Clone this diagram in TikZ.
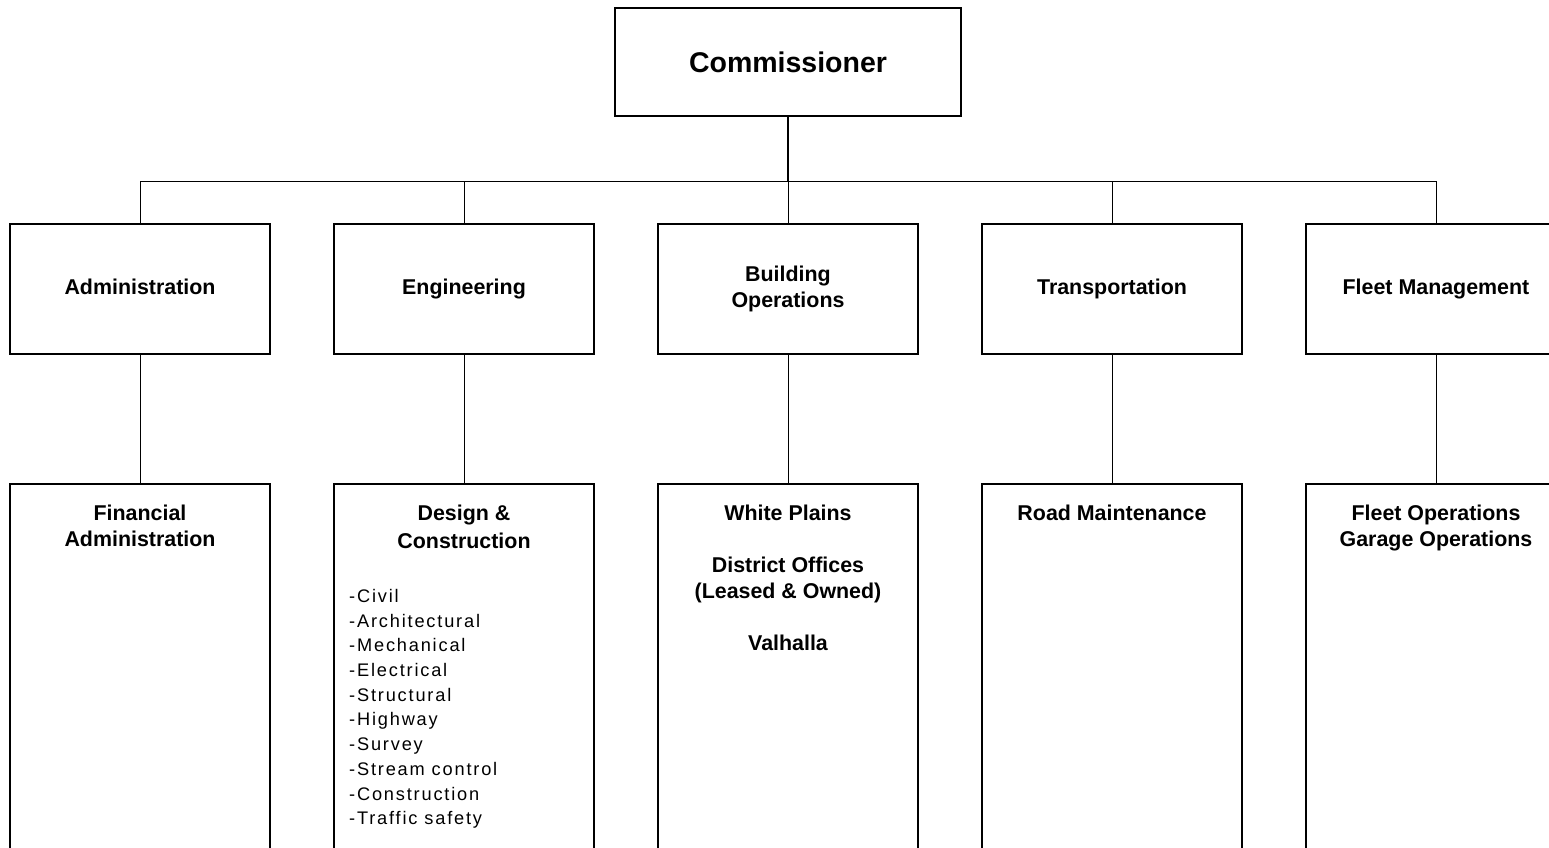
\documentclass[tikz,border=0pt]{standalone}
\usepackage{fontspec}
\setmainfont{Liberation Sans}
\newfontfamily\listfont[LetterSpace=10]{Liberation Sans}
\begin{document}
\begin{tikzpicture}[x=1pt,y=-1pt,
  topbox/.style={draw,line width=1.5pt,minimum width=346pt,minimum height=108pt,inner sep=0pt,
    font=\fontsize{28.5}{34}\selectfont\bfseries},
  midbox/.style={draw,line width=1.5pt,minimum width=260pt,minimum height=130pt,inner sep=0pt,align=center,
    font=\fontsize{21.4}{26}\selectfont\bfseries,execute at begin node={\vphantom{Apg}}},
  lowbox/.style={draw,line width=1.5pt,minimum width=260pt,minimum height=450pt,inner sep=0pt,anchor=north},
  lowtext/.style={anchor=north,inner sep=0pt,align=center,font=\fontsize{21.4}{26}\selectfont\bfseries},
  listtext/.style={anchor=north west,inner sep=0pt,align=left,font=\fontsize{18.2}{24.7}\selectfont\listfont},
  conn/.style={line width=1pt},
  trunk/.style={line width=1.8pt}]
\useasboundingbox (0,0) rectangle (1549,847);
\clip (0,0) rectangle (1549,847);

\node[topbox] (comm) at (788,62) {Commissioner};

\node[midbox] (adm) at (140,289) {Administration};
\node[midbox] (eng) at (464,289) {Engineering};
\node[midbox] (bld) at (788,289) {Building\\Operations};
\node[midbox] (trn) at (1112,289) {Transportation};
\node[midbox] (flt) at (1436,289) {Fleet Management};

\node[lowbox] (fin) at (140,483) {};
\node[lowbox] (des) at (464,483) {};
\node[lowbox] (wp) at (788,483) {};
\node[lowbox] (road) at (1112,483) {};
\node[lowbox] (fop) at (1436,483) {};

\node[lowtext] (fint) at (140,504.5) {Financial\\Administration};
\node[lowtext] (dest) at (464,504.5) {Design \&\\[2pt]Construction};
\node[listtext] (list) at (349,589) {-Civil\\-Architectural\\-Mechanical\\-Electrical\\-Structural\\-Highway\\-Survey\\-Stream control\\-Construction\\-Traffic safety};
\node[lowtext] (wpt) at (788,504.5) {White Plains\\[26pt]District Offices\\(Leased \& Owned)\\[26pt]Valhalla};
\node[lowtext] (roadt) at (1112,504.5) {Road Maintenance};
\node[lowtext] (fopt) at (1436,504.5) {Fleet Operations\\Garage Operations};

\coordinate (bus) at (788,181);
\draw[trunk] (comm.south) -- (bus);
\draw[conn] (bus) -| (adm.north);
\draw[conn] (bus) -| (eng.north);
\draw[conn] (bus) -- (bld.north);
\draw[conn] (bus) -| (trn.north);
\draw[conn] (bus) -| (flt.north);

\draw[conn] (adm.south) -- (fin.north);
\draw[conn] (eng.south) -- (des.north);
\draw[conn] (bld.south) -- (wp.north);
\draw[conn] (trn.south) -- (road.north);
\draw[conn] (flt.south) -- (fop.north);
\end{tikzpicture}
\end{document}
